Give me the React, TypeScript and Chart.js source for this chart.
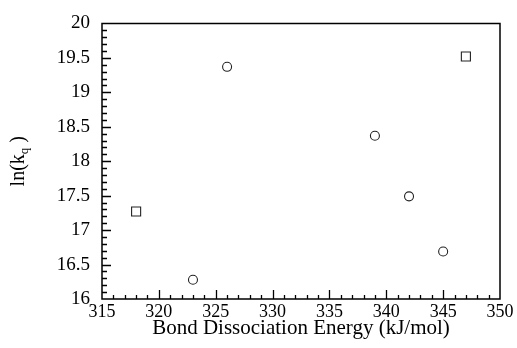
import React, { useEffect, useRef } from "react";
import { Chart, registerables } from "chart.js";

Chart.register(...registerables);

const circleEnergy = [323, 326, 339, 342, 345];
const circleLnK = [16.28, 19.37, 18.37, 17.49, 16.69];
const squareEnergy = [318, 347];
const squareLnK = [17.27, 19.52];

const xMin = 315;
const xMax = 350;
const xMajorStep = 5;
const xMinorStep = 1;
const yMin = 16;
const yMax = 20;
const yMajorStep = 0.5;
const yMinorStep = 0.1;

const xTitle = "Bond Dissociation Energy (kJ/mol)";
const yTitleMain = "ln(k";
const yTitleSub = "q";
const yTitleEnd = " )";

const FONT = "'Liberation Serif', 'Times New Roman', serif";

const frameAndTicks = {
  id: "frameAndTicks",
  afterDatasetsDraw(chart: any) {
    const { ctx, chartArea, scales } = chart;
    const { left, right, top, bottom } = chartArea;
    const xs = scales.x;
    const ys = scales.y;
    ctx.save();
    ctx.strokeStyle = "#000";
    ctx.lineWidth = 1.5;
    ctx.beginPath();
    ctx.rect(left, top, right - left, bottom - top);
    ctx.stroke();
    ctx.lineWidth = 1.3;
    ctx.beginPath();
    const nx = Math.round((xMax - xMin) / xMinorStep);
    for (let i = 1; i < nx; i++) {
      const v = xMin + i * xMinorStep;
      const major = Math.abs(v / xMajorStep - Math.round(v / xMajorStep)) < 1e-6;
      const px = Math.round(xs.getPixelForValue(v)) + 0.5;
      const len = major ? 9 : 4;
      ctx.moveTo(px, bottom);
      ctx.lineTo(px, bottom - len);
    }
    const ny = Math.round((yMax - yMin) / yMinorStep);
    for (let i = 1; i < ny; i++) {
      const v = yMin + i * yMinorStep;
      const major = Math.abs(v / yMajorStep - Math.round(v / yMajorStep)) < 1e-6;
      const py = Math.round(ys.getPixelForValue(v)) + 0.5;
      const len = major ? 9 : 5;
      ctx.moveTo(left, py);
      ctx.lineTo(left + len, py);
    }
    ctx.stroke();

    // y axis title with subscript
    const cy = (top + bottom) / 2;
    ctx.translate(19, cy);
    ctx.rotate(-Math.PI / 2);
    ctx.fillStyle = "#000";
    ctx.textBaseline = "middle";
    ctx.font = `20px ${FONT}`;
    const wMain = ctx.measureText(yTitleMain).width;
    ctx.font = `13px ${FONT}`;
    const wSub = ctx.measureText(yTitleSub).width;
    ctx.font = `20px ${FONT}`;
    const wEnd = ctx.measureText(yTitleEnd).width;
    const total = wMain + wSub + wEnd;
    let x0 = -total / 2;
    ctx.textAlign = "left";
    ctx.fillText(yTitleMain, x0, 0);
    x0 += wMain;
    ctx.font = `13px ${FONT}`;
    ctx.fillText(yTitleSub, x0, 6);
    x0 += wSub;
    ctx.font = `20px ${FONT}`;
    ctx.fillText(yTitleEnd, x0, 0);
    ctx.restore();
  },
};

export default function App() {
  const ref = useRef<HTMLCanvasElement | null>(null);
  useEffect(() => {
    if (!ref.current) return;
    const chart = new Chart(ref.current, {
      type: "scatter",
      data: {
        datasets: [
          {
            data: circleEnergy.map((x, i) => ({ x, y: circleLnK[i] })),
            pointStyle: "circle",
            pointRadius: 4.5,
            pointBorderWidth: 1.1,
            borderColor: "#222",
            backgroundColor: "rgba(0,0,0,0)",
          },
          {
            data: squareEnergy.map((x, i) => ({ x, y: squareLnK[i] })),
            pointStyle: "rect",
            pointRadius: 6.4,
            pointBorderWidth: 1.1,
            borderColor: "#222",
            backgroundColor: "rgba(0,0,0,0)",
          },
        ],
      },
      options: {
        animation: false,
        responsive: false,
        events: [],
        layout: { padding: { top: 20, right: 17, left: 0, bottom: 0 } },
        plugins: { legend: { display: false }, tooltip: { enabled: false } },
        scales: {
          x: {
            type: "linear",
            min: xMin,
            max: xMax,
            border: { display: false },
            grid: { display: false, drawTicks: false },
            ticks: {
              stepSize: xMajorStep,
              color: "#000",
              padding: 2,
              font: { family: FONT, size: 18 },
              callback: (v: any) => String(v),
            },
            title: {
              display: true,
              text: xTitle,
              color: "#000",
              font: { family: FONT, size: 21 },
              padding: { top: 0, bottom: 7 },
            },
            afterFit: (s: any) => {
              s.height = 49;
            },
          },
          y: {
            type: "linear",
            min: yMin,
            max: yMax,
            border: { display: false },
            grid: { display: false, drawTicks: false },
            ticks: {
              stepSize: yMajorStep,
              color: "#000",
              padding: 12,
              font: { family: FONT, size: 19 },
              callback: (v: any) => String(Math.round(Number(v) * 10) / 10),
            },
            afterFit: (s: any) => {
              s.width = 102;
            },
          },
        },
      },
      plugins: [frameAndTicks],
    });
    return () => chart.destroy();
  }, []);
  return (
    <div style={{ position: "fixed", left: 0, top: 0, width: 517, height: 348, background: "#fff" }}>
      <canvas ref={ref} width={517} height={348} />
    </div>
  );
}
